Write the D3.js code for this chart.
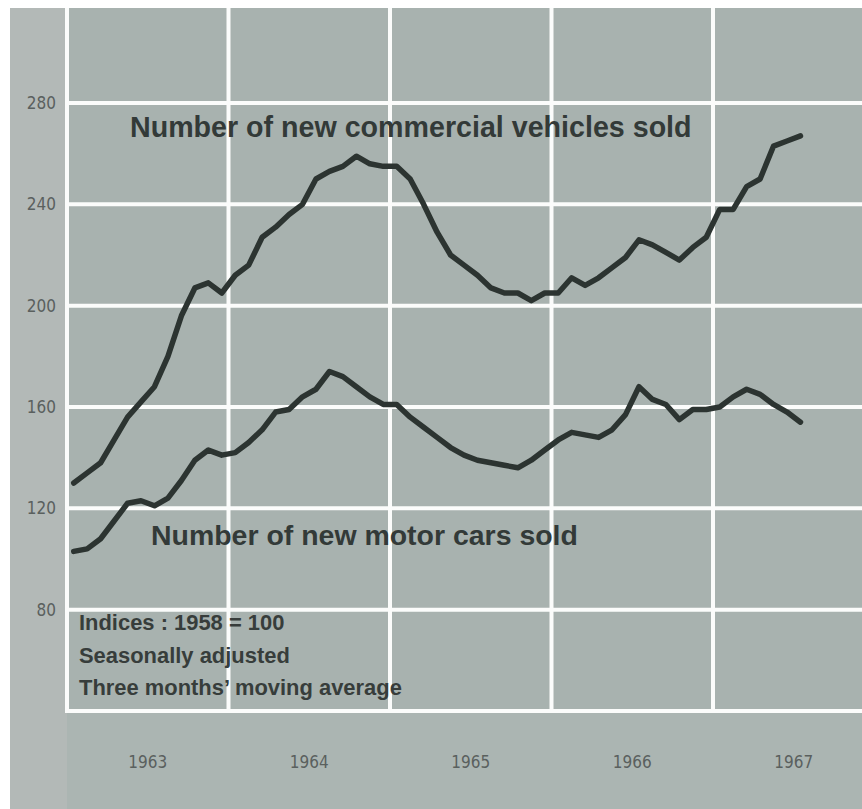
<!DOCTYPE html>
<html>
<head>
<meta charset="utf-8">
<script src="https://cdn.jsdelivr.net/npm/d3@7"></script>
<style>
  body { margin: 0; background: #fff; }
  svg { display: block; }
</style>
</head>
<body>
<div id="chart"></div>
<script>
// monthly points, Jan 1963 .. Jul 1967 (three months' moving average, 1958 = 100)
var startYear = 1963;
var commercial = [130, 134, 138, 147, 156, 162, 168, 180, 196, 207, 209, 205,
                  212, 216, 227, 231, 236, 240, 250, 253, 255, 259, 256, 255,
                  255, 250, 240, 229, 220, 216, 212, 207, 205, 205, 202, 205,
                  205, 211, 208, 211, 215, 219, 226, 224, 221, 218, 223, 227,
                  238, 238, 247, 250, 263, 265, 267];
var cars = [103, 104, 108, 115, 122, 123, 121, 124, 131, 139, 143, 141,
            142, 146, 151, 158, 159, 164, 167, 174, 172, 168, 164, 161,
            161, 156, 152, 148, 144, 141, 139, 138, 137, 136, 139, 143,
            147, 150, 149, 148, 151, 157, 168, 163, 161, 155, 159, 159,
            160, 164, 167, 165, 161, 158, 154];
var yTicks = [80, 120, 160, 200, 240, 280];
var yearTicks = [1963, 1964, 1965, 1966, 1967];
var notes = ["Indices : 1958 = 100", "Seasonally adjusted", "Three months\u2019 moving average"];

var W = 862, H = 809;
var plot = {left: 67, top: 8, right: 862, bottom: 711};

var svg = d3.select("#chart").append("svg")
  .attr("width", W)
  .attr("height", H);

var x = d3.scaleLinear()
  .domain([1963, 1968])
  .range([plot.left, plot.left + 5 * 161.5]);

var y = d3.scaleLinear()
  .domain([40, 280])
  .range([plot.bottom, 103]);

// backgrounds
svg.append("rect")
  .attr("x", 10).attr("y", 8)
  .attr("width", W - 10).attr("height", H - 8)
  .attr("fill", "#abb5b2");
svg.append("rect")
  .attr("x", 10).attr("y", 8)
  .attr("width", plot.left - 10).attr("height", H - 8)
  .attr("fill", "#b3b9b7");
svg.append("rect")
  .attr("x", plot.left).attr("y", plot.top)
  .attr("width", plot.right - plot.left).attr("height", plot.bottom - plot.top)
  .attr("fill", "#a8b2af");

// grid
var grid = svg.append("g").attr("stroke", "#fbfcfb").attr("stroke-width", 4);
grid.selectAll(".h")
  .data(yTicks.concat([40]))
  .enter().append("line")
  .attr("x1", plot.left).attr("x2", plot.right)
  .attr("y1", function(d){ return y(d); })
  .attr("y2", function(d){ return y(d); });
grid.selectAll(".v")
  .data(yearTicks)
  .enter().append("line")
  .attr("x1", function(d){ return x(d); })
  .attr("x2", function(d){ return x(d); })
  .attr("y1", plot.top).attr("y2", plot.bottom + 2);

// axis labels
var tickFont = "'Liberation Sans Narrow', 'DejaVu Sans Condensed', sans-serif";
svg.append("g").selectAll("text")
  .data(yTicks)
  .enter().append("text")
  .attr("x", 56)
  .attr("y", function(d){ return y(d); })
  .attr("dy", "0.35em")
  .attr("text-anchor", "end")
  .style("font-family", tickFont)
  .style("font-size", "17px")
  .attr("fill", "#5a605e")
  .text(function(d){ return d; });

svg.append("g").selectAll("text")
  .data(yearTicks)
  .enter().append("text")
  .attr("x", function(d){ return x(d + 0.5); })
  .attr("y", 762)
  .attr("dy", "0.35em")
  .attr("text-anchor", "middle")
  .style("font-family", tickFont)
  .style("font-size", "17px")
  .attr("fill", "#5a605e")
  .text(function(d){ return d; });

// series
var line = d3.line()
  .x(function(d, i){ return x(startYear + (i + 0.5) / 12); })
  .y(function(d){ return y(d); })
  .curve(d3.curveLinear);

[commercial, cars].forEach(function(s){
  svg.append("path")
    .datum(s)
    .attr("fill", "none")
    .attr("stroke", "#2c3431")
    .attr("stroke-width", 5.5)
    .attr("stroke-linejoin", "round")
    .attr("stroke-linecap", "round")
    .attr("d", line);
});

// make a bold label span a given width
function fitText(t, target){
  var w = t.node().getComputedTextLength();
  var fs = parseFloat(t.style("font-size"));
  t.style("font-size", (fs * target / w) + "px");
}

var boldFont = "'Liberation Sans', Arial, Helvetica, sans-serif";
var t1 = svg.append("text")
  .attr("x", 130).attr("y", 137)
  .style("font-family", boldFont).style("font-weight", "bold").style("font-size", "24px")
  .attr("fill", "#333a38")
  .text("Number of new commercial vehicles sold");
fitText(t1, 562);

var t2 = svg.append("text")
  .attr("x", 151).attr("y", 545)
  .style("font-family", boldFont).style("font-weight", "bold").style("font-size", "24px")
  .attr("fill", "#333a38")
  .text("Number of new motor cars sold");
fitText(t2, 427);

var noteG = svg.append("g");
var noteY = [630, 663, 695];
notes.forEach(function(n, i){
  var t = noteG.append("text")
    .attr("x", 79).attr("y", noteY[i])
    .style("font-family", boldFont).style("font-weight", "bold").style("font-size", "16px")
    .attr("fill", "#373d3b")
    .text(n);
  if (i == 2) fitText(t, 323);
});
var fs3 = noteG.selectAll("text").filter(function(d, i){ return i == 2; }).style("font-size");
noteG.selectAll("text").style("font-size", fs3);
</script>
</body>
</html>
